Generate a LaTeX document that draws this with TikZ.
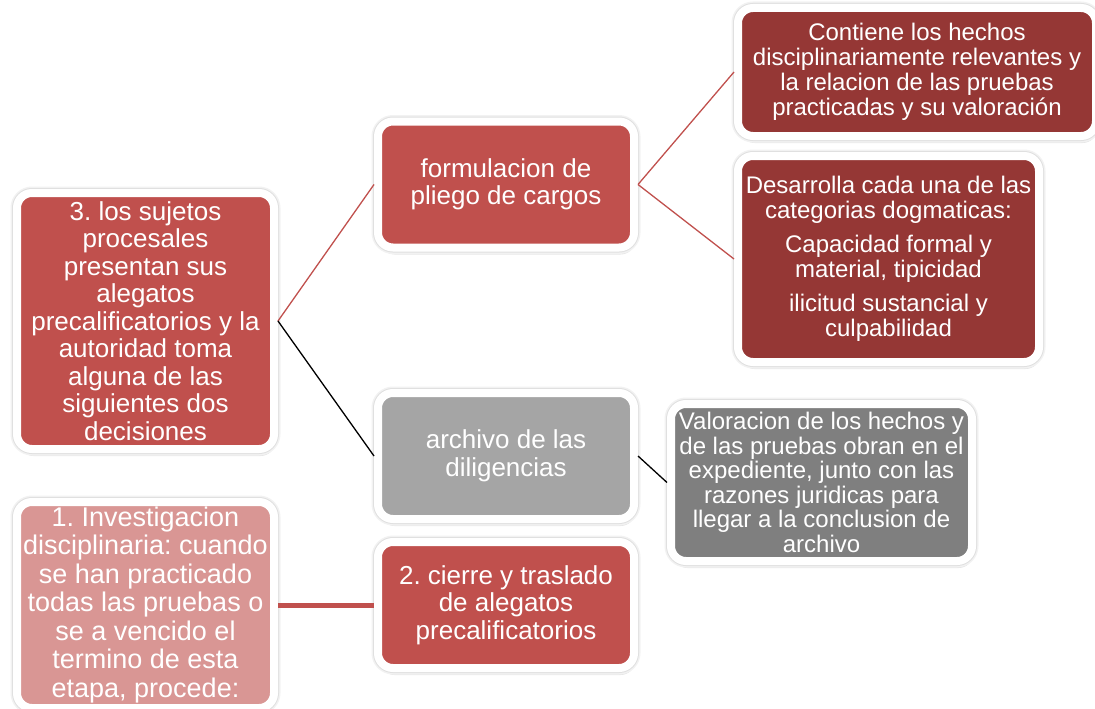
\documentclass[tikz,border=0pt]{standalone}
\usepackage{fontspec}
\setmainfont{Liberation Sans}
\usepackage{tikz}
\usetikzlibrary{positioning, shadows}
\definecolor{boxred}{HTML}{C0504D}
\definecolor{boxdark}{HTML}{953735}
\definecolor{boxpink}{HTML}{D99694}
\definecolor{boxgrey}{HTML}{A5A5A5}
\definecolor{boxdarkgrey}{HTML}{7F7F7F}
\tikzstyle{card} = [rectangle, rounded corners=15pt, draw=white, line width=8pt, text=white, align=center, inner sep=0pt, drop shadow={opacity=0.2, shadow xshift=1.5pt, shadow yshift=-7pt}, preaction={draw=black!5, line width=13pt}, preaction={draw=black!12, line width=10pt}]
\tikzstyle{redbox} = [card, fill=boxred, minimum width=256pt, minimum height=126pt, font=\fontsize{26}{27.5}\selectfont]
\tikzstyle{greybox} = [card, fill=boxgrey, minimum width=256pt, minimum height=126pt, font=\fontsize{26}{27.5}\selectfont]
\tikzstyle{pinkbox} = [card, fill=boxpink, minimum width=257pt, minimum height=206pt, font=\fontsize{27}{28.5}\selectfont]
\tikzstyle{darkbox} = [card, fill=boxdark, font=\fontsize{24}{25}\selectfont]
\tikzstyle{darkgreybox} = [card, fill=boxdarkgrey, minimum width=301pt, minimum height=157pt, font=\fontsize{24}{24.5}\selectfont]
\tikzstyle{redline} = [line width=1.3pt, draw=boxred]
\tikzstyle{blackline} = [line width=1.3pt, draw=black]
\tikzstyle{thickline} = [line width=5pt, draw=boxred]
\frenchspacing

\begin{document}
\begin{tikzpicture}[node distance=360.5pt]
    \useasboundingbox (0,0) rectangle (1095pt,-709pt);
    \node (decision) [redbox, minimum height=256pt, minimum width=257pt] at (145.5pt,-321pt) {3. los sujetos\\procesales\\presentan sus\\alegatos\\precalificatorios y la\\autoridad toma\\alguna de las\\siguientes dos\\decisiones};
    \node (pliego) [redbox, right of=decision, yshift=136.5pt] {formulacion de\\pliego de cargos};
    \node (archivo) [greybox, right of=decision, yshift=-135pt] {archivo de las\\diligencias};
    \node (investigacion) [pinkbox] at (145.5pt,-605pt) {1. Investigacion\\disciplinaria: cuando\\se han practicado\\todas las pruebas o\\se a vencido el\\termino de esta\\etapa, procede:};
    \node (cierre) [redbox, right of=investigacion] {2. cierre y traslado\\de alegatos\\precalificatorios};
    \node (hechos) [darkbox, minimum width=358pt, minimum height=128pt, right of=pliego, xshift=50.5pt, yshift=112.5pt] {Contiene los hechos\\disciplinariamente relevantes y\\la relacion de las pruebas\\practicadas y su valoración};
    \node (categorias) [darkbox, minimum width=301pt, minimum height=206pt, right of=pliego, xshift=22pt, yshift=-74.5pt] {Desarrolla cada una de las\\categorias dogmaticas:\\[9pt]Capacidad formal y\\material, tipicidad\\[9pt]ilicitud sustancial y\\culpabilidad};
    \node (valoracion) [darkgreybox, right of=archivo, xshift=-45pt, yshift=-26.5pt] {Valoracion de los hechos y\\de las pruebas obran en el\\expediente, junto con las\\razones juridicas para\\llegar a la conclusion de\\archivo};

    \draw [redline] (decision.east) -- (pliego.west);
    \draw [blackline] (decision.east) -- (archivo.west);
    \draw [redline] (pliego.east) -- (hechos.west);
    \draw [redline] (pliego.east) -- (categorias.west);
    \draw [blackline] (archivo.east) -- (valoracion.west);
    \draw [thickline] (investigacion.east) -- (cierre.west);
\end{tikzpicture}
\end{document}
